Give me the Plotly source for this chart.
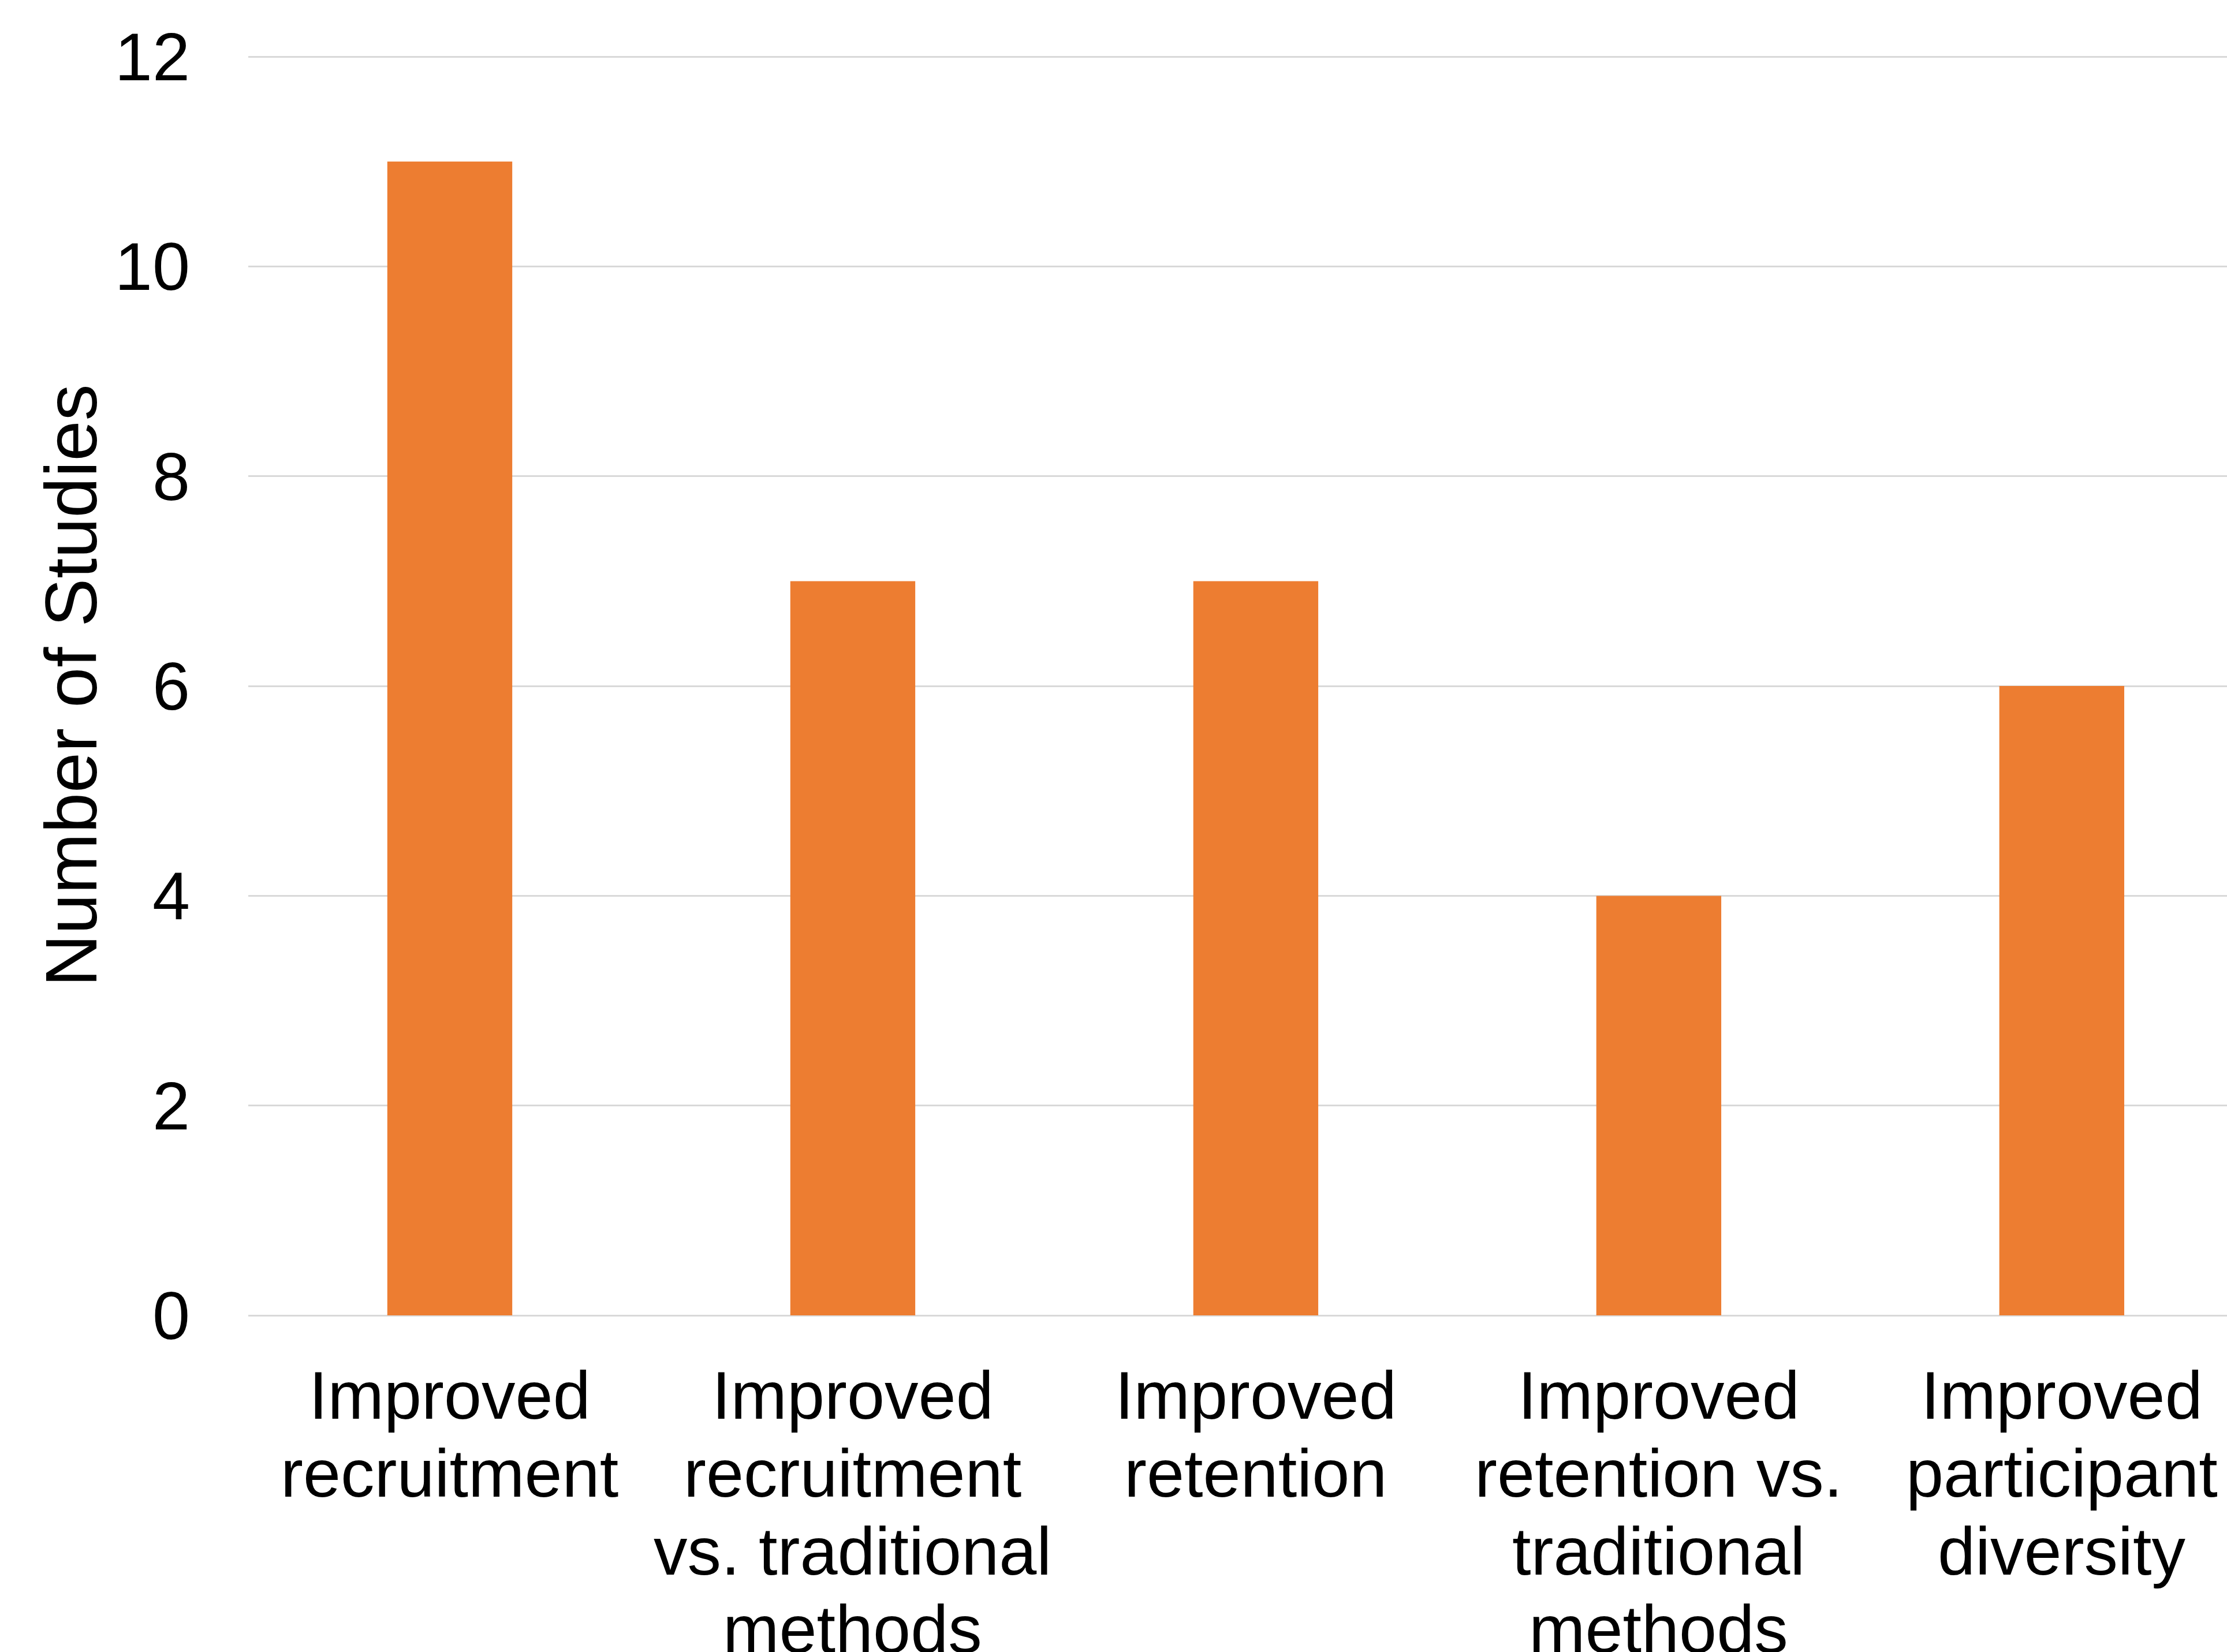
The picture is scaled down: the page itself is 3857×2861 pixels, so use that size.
import plotly.graph_objects as go

categories = [
    "Improved recruitment",
    "Improved recruitment vs. traditional methods",
    "Improved retention",
    "Improved retention vs. traditional methods",
    "Improved participant diversity",
]
category_lines = [
    ["Improved", "recruitment"],
    ["Improved", "recruitment", "vs. traditional", "methods"],
    ["Improved", "retention"],
    ["Improved", "retention vs.", "traditional", "methods"],
    ["Improved", "participant", "diversity"],
]
values = [11, 7, 7, 4, 6]
y_ticks = [0, 2, 4, 6, 8, 10, 12]

W, H = 3857, 2861
L, R, T, B = 430, 0, 96, 583
FONT = "Liberation Sans, Arial, sans-serif"
PLOT_H = H - T - B
AXIS_Y = H - B  # pixel row of the x axis

fig = go.Figure(
    go.Bar(
        x=list(range(len(categories))),
        y=values,
        customdata=categories,
        hovertemplate="%{customdata}: %{y}<extra></extra>",
        marker=dict(color="#ED7D31", line=dict(width=0)),
        width=0.31,
    )
)

fig.update_layout(
    width=W,
    height=H,
    margin=dict(l=L, r=R, t=T, b=B, autoexpand=False),
    paper_bgcolor="white",
    plot_bgcolor="white",
    showlegend=False,
    font=dict(family=FONT, color="black", size=117),
)

fig.update_xaxes(
    range=[-0.5, 4.41],
    tickmode="array",
    tickvals=list(range(len(categories))),
    showticklabels=False,
    showgrid=False,
    showline=False,
    zeroline=False,
    ticks="",
    automargin=False,
)

fig.update_yaxes(
    range=[0, 12.012],
    tickmode="array",
    tickvals=y_ticks,
    ticktext=[str(v) for v in y_ticks],
    showgrid=True,
    gridcolor="#d9d9d9",
    gridwidth=2.5,
    zeroline=True,
    zerolinecolor="#d9d9d9",
    zerolinewidth=2.5,
    showline=False,
    ticks="",
    automargin=False,
    ticklabelstandoff=100,
    tickfont=dict(size=117, family=FONT, color="black"),
)

# category labels, one line per annotation for Excel-like line spacing
first_line_center = 2416
line_step = 135
for i, lines in enumerate(category_lines):
    for j, line in enumerate(lines):
        ypix = first_line_center + j * line_step
        fig.add_annotation(
            text=line,
            x=i,
            xref="x",
            y=(AXIS_Y - ypix) / PLOT_H,
            yref="paper",
            xanchor="center",
            yanchor="middle",
            showarrow=False,
            font=dict(size=117, family=FONT, color="black"),
        )

fig.add_annotation(
    text="Number of Studies",
    xref="paper",
    yref="paper",
    x=(123 - L) / (W - L - R),
    y=0.5,
    xanchor="center",
    yanchor="middle",
    textangle=-90,
    showarrow=False,
    font=dict(size=126, family=FONT, color="black"),
)

fig.write_html("out.html")
